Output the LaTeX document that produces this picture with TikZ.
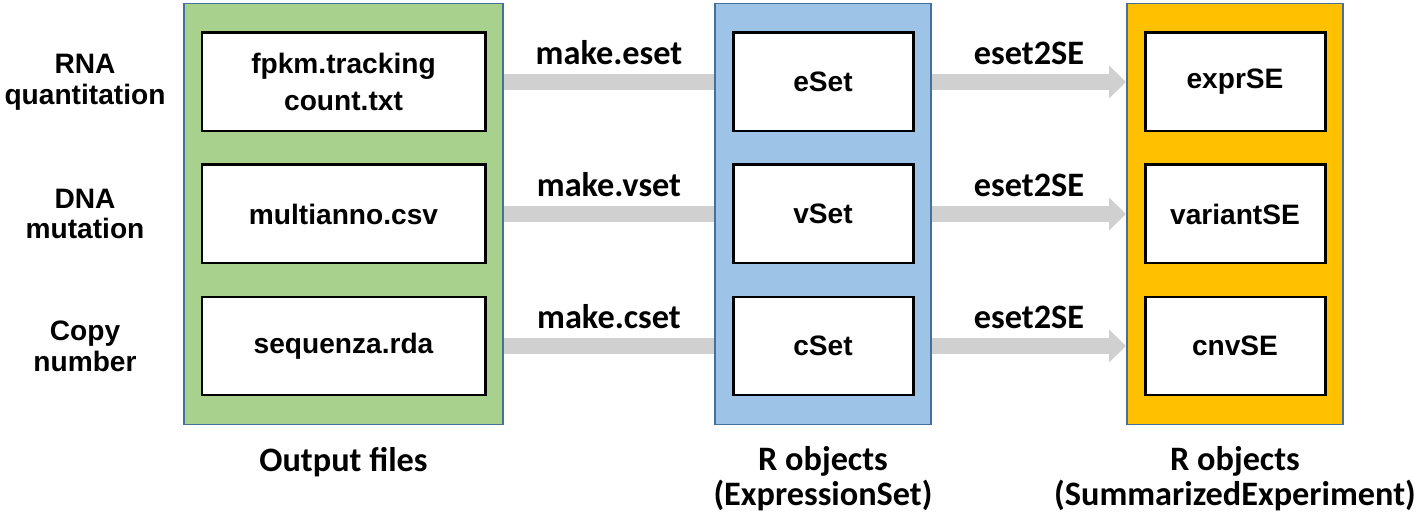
\documentclass[tikz,border=0pt]{standalone}
\usepackage{fontspec}
\setmainfont{Liberation Sans}
\newfontfamily\calibrifont{Carlito}
\usepackage{tikz}
\usetikzlibrary{arrows.meta,positioning}
\definecolor{filegreen}{HTML}{A9D18E}
\definecolor{rsetblue}{HTML}{9DC3E6}
\definecolor{segold}{HTML}{FFC000}
\definecolor{frameblue}{HTML}{41719C}
\definecolor{bargray}{HTML}{D0D0D0}
\newcommand{\boxfont}{\bfseries\fontsize{16}{21}\selectfont}
\newcommand{\sidefont}{\bfseries\fontsize{16}{17.6}\selectfont}
\newcommand{\labelfont}{\calibrifont\bfseries\fontsize{19.5}{20}\selectfont}
\tikzset{
    column/.style={draw=frameblue, line width=1.1pt, minimum width=#1, minimum height=84.2mm, inner sep=0pt},
    file box/.style={draw=black, line width=1.7pt, fill=white, minimum width=#1, minimum height=19.6mm, align=center, font=\boxfont},
    side label/.style={align=center, font=\sidefont},
    step label/.style={font=\labelfont, text=black, anchor=base, yshift=3.4mm},
    col label/.style={font=\labelfont, align=center, anchor=base},
    bar/.style={bargray, line width=3.2mm},
    bar arr/.style={bar, -{Triangle[length=3.4mm,width=6.4mm]}},
}

\begin{document}
\begin{tikzpicture}[x=0.2mm,y=-0.2mm]
    \useasboundingbox (0,0) rectangle (1418,518);

    % columns
    \node[column=63.8mm, fill=filegreen] (files) at (343.5,214) {};
    \node[column=43.2mm, fill=rsetblue] (esets) at (823,214) {};
    \node[column=43.2mm, fill=segold] (ses) at (1235,214) {};

    % data types
    \node[side label] (rna) at (85,82) {RNA\\quantitation};
    \node[side label] (dna) at (85,214) {DNA\\mutation};
    \node[side label] (copy) at (85,346) {Copy\\number};

    % output files
    \node[file box=56.6mm] (fpkm) at (343.5,82) {fpkm.tracking\\count.txt};
    \node[file box=56.6mm] (multianno) at (343.5,214) {multianno.csv};
    \node[file box=56.6mm] (sequenza) at (343.5,346) {sequenza.rda};

    % expression sets
    \node[file box=36mm] (eset) at (823,82) {eSet};
    \node[file box=36mm] (vset) at (823,214) {vSet};
    \node[file box=36mm] (cset) at (823,346) {cSet};

    % summarized experiments
    \node[file box=36mm] (exprse) at (1235,82) {exprSE};
    \node[file box=36mm] (variantse) at (1235,214) {variantSE};
    \node[file box=36mm] (cnvse) at (1235,346) {cnvSE};

    \draw[bar] (files.east |- fpkm) -- (esets.west |- fpkm) node[step label, midway] {make.eset};
    \draw[bar] (files.east |- multianno) -- (esets.west |- multianno) node[step label, midway] {make.vset};
    \draw[bar] (files.east |- sequenza) -- (esets.west |- sequenza) node[step label, midway] {make.cset};

    \draw[bar arr] (esets.east |- eset) -- (ses.west |- eset) node[step label, midway] {eset2SE};
    \draw[bar arr] (esets.east |- vset) -- (ses.west |- vset) node[step label, midway] {eset2SE};
    \draw[bar arr] (esets.east |- cset) -- (ses.west |- cset) node[step label, midway] {eset2SE};

    % base of a two line label is its last line
    \node[col label] (outlabel) at (343.5,472) {Output files};
    \node[col label] (rlabel) at (823,506) {R objects\\(ExpressionSet)};
    \node[col label] (selabel) at (1235,506) {R objects\\(SummarizedExperiment)};
\end{tikzpicture}
\end{document}
